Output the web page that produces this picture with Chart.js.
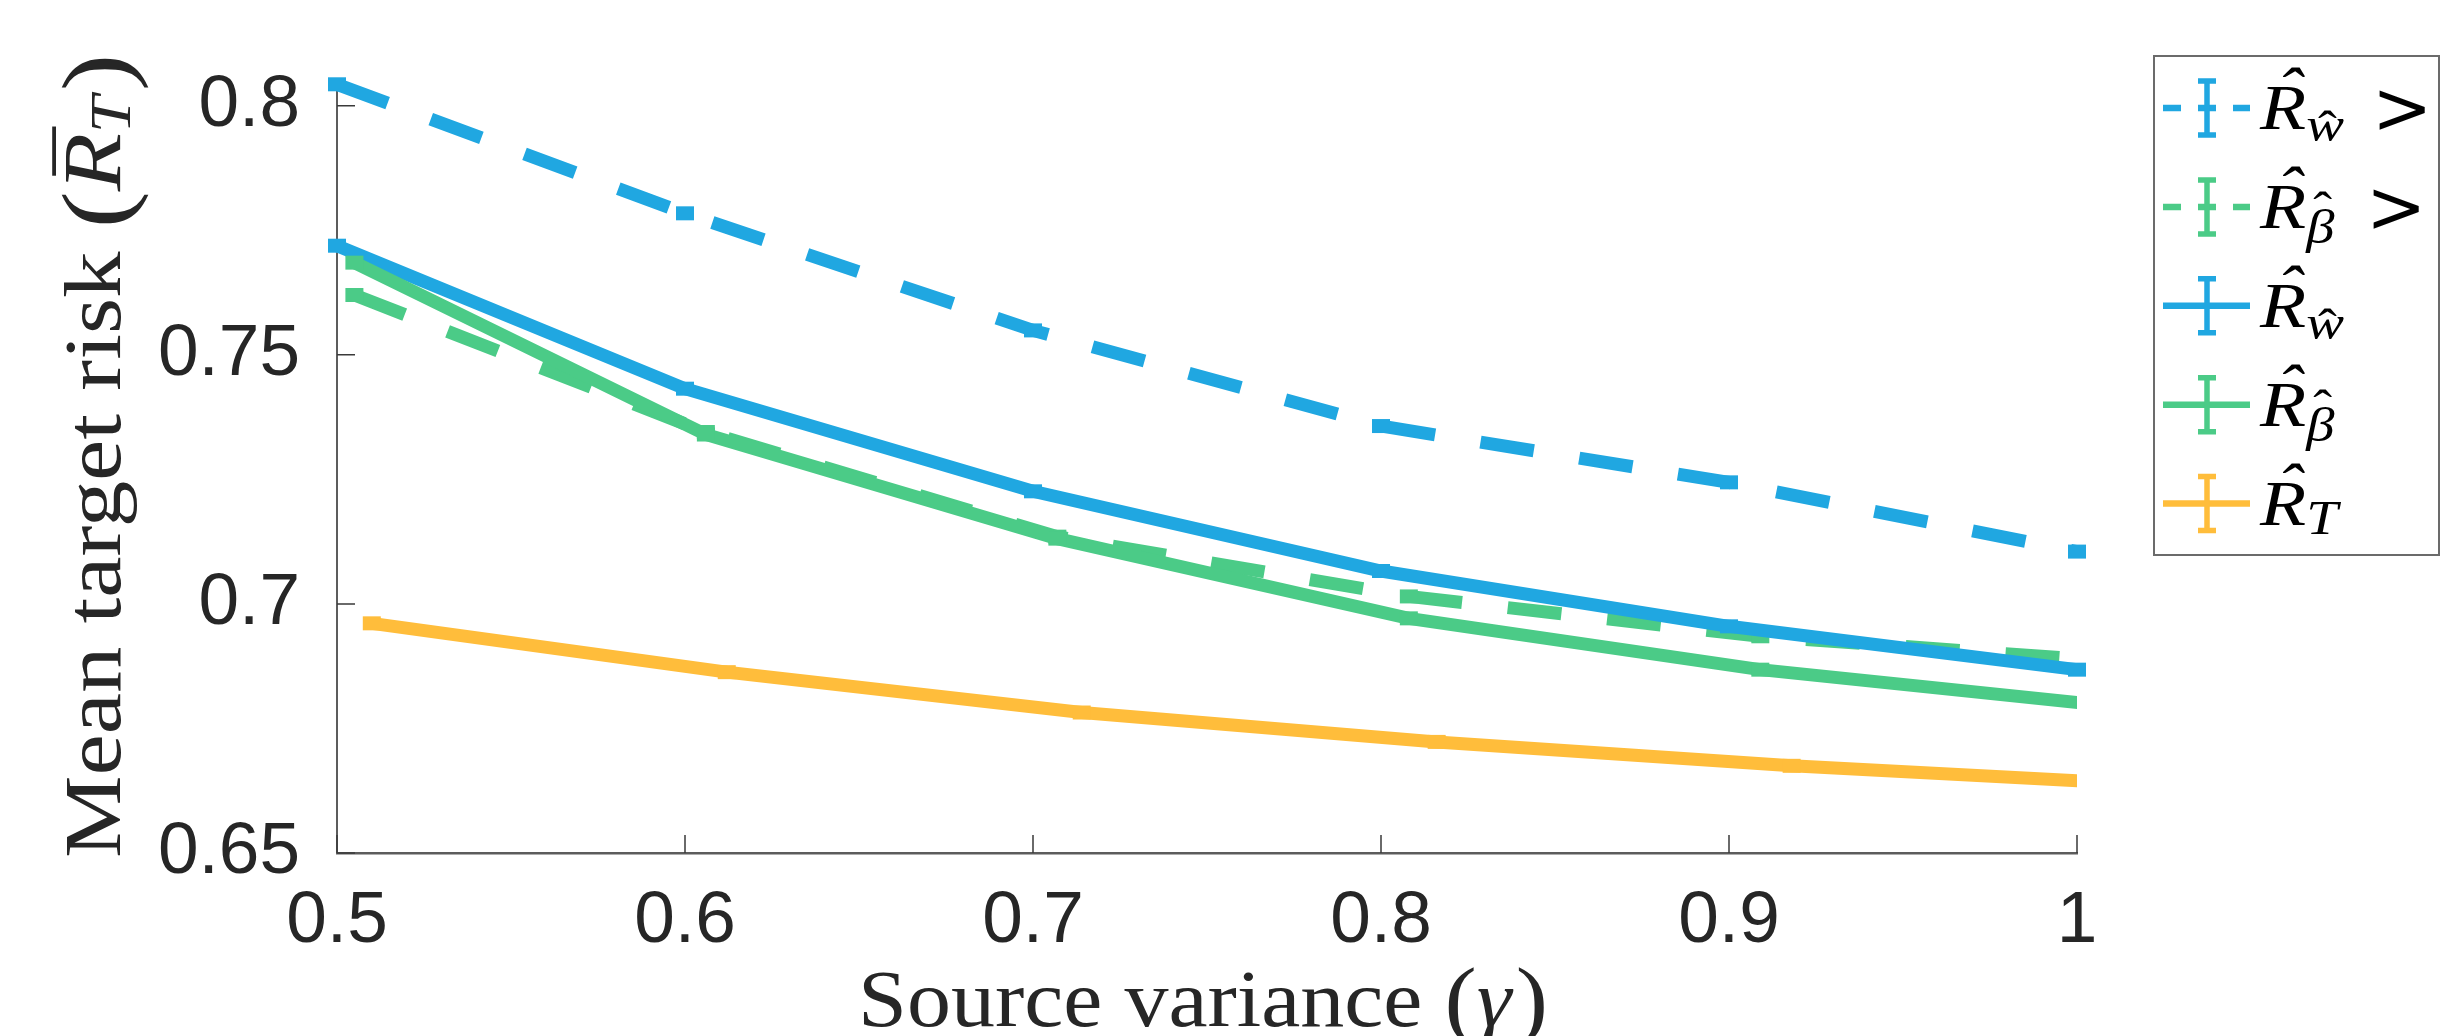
<!DOCTYPE html>
<html>
<head>
<meta charset="utf-8">
<script src="https://cdn.jsdelivr.net/npm/chart.js@4.4.0/dist/chart.umd.min.js"></script>
<style>
  html, body { margin: 0; padding: 0; background: #fff; }
</style>
</head>
<body>
<canvas id="chart" width="2458" height="1036"></canvas>
<script>
// x positions (errorbar series are slightly shifted in the original figure)
const gammaBlue = [0.5, 0.6, 0.7, 0.8, 0.9, 1.0];
const gammaGreen = [0.505, 0.606, 0.707, 0.808, 0.909, 1.01];
const gammaYellow = [0.51, 0.612, 0.714, 0.816, 0.918, 1.02];

// mean target risk per method
const riskWCond = [0.8043, 0.7784, 0.7549, 0.7357, 0.7244, 0.7105];
const riskBetaCond = [0.7620, 0.7345, 0.7135, 0.7015, 0.6935, 0.6885];
const riskW = [0.7719, 0.7432, 0.7226, 0.7066, 0.6955, 0.6868];
const riskBeta = [0.7685, 0.7340, 0.7131, 0.6971, 0.6868, 0.6795];
const riskTarget = [0.6961, 0.6863, 0.6782, 0.6723, 0.6675, 0.6638];

const seriesNames = ['R̂_ŵ >', 'R̂_β̂ >', 'R̂_ŵ', 'R̂_β̂', 'R̂_T'];

const xTicks = [0.5, 0.6, 0.7, 0.8, 0.9, 1];
const xTickLabels = ['0.5', '0.6', '0.7', '0.8', '0.9', '1'];
const yTicks = [0.65, 0.7, 0.75, 0.8];
const yTickLabels = ['0.65', '0.7', '0.75', '0.8'];

const BLUE = '#20a7e1';
const GREEN = '#4bcb87';
const YELLOW = '#ffbd3b';
const AXIS = '#5c5c5c';
const TEXT = '#262626';
const SANS = '"Liberation Sans", Arial, sans-serif';
const SERIF = '"Liberation Serif", "DejaVu Serif", serif';

function pts(xs, ys) {
    return xs.map((x, i) => ({ x: x, y: ys[i] }));
}

function series(label, xs, ys, color, dashed, order, clipRight) {
    return {
        label: label,
        data: pts(xs, ys),
        borderColor: color,
        backgroundColor: color,
        borderWidth: 13,
        borderDash: dashed ? [54, 46] : [],
        borderCapStyle: 'butt',
        borderJoinStyle: 'miter',
        tension: 0,
        fill: false,
        // errorbar caps (errors are tiny, so they look like small blocks)
        pointStyle: 'line',
        pointRadius: 9,
        pointHoverRadius: 9,
        pointBorderWidth: 14,
        pointBorderColor: color,
        order: order,
        clip: clipRight ? { left: false, top: false, bottom: false, right: 0 } : false,
        dashed: dashed
    };
}

// draw a run of text pieces with optional accents and baseline shifts,
// stretched horizontally by sx (the original uses a wide LaTeX font)
function drawRich(ctx, parts, x, y, align, sx) {
    sx = sx || 1;
    let total = 0;
    parts.forEach(p => {
        ctx.font = p.font;
        p.w = ctx.measureText(p.t).width + (p.kern || 0);
        total += p.w;
    });
    ctx.save();
    ctx.translate(x, y);
    ctx.scale(sx, 1);
    let cx = align === 'center' ? -total / 2 : 0;
    ctx.textAlign = 'left';
    ctx.textBaseline = 'alphabetic';
    parts.forEach(p => {
        ctx.font = p.font;
        ctx.fillText(p.t, cx, p.dy || 0);
        if (p.acc) {
            ctx.font = p.accFont || p.font;
            ctx.textAlign = 'center';
            ctx.fillText(p.acc, cx + (p.w - (p.kern || 0)) / 2 + (p.accDx || 0), (p.dy || 0) + (p.accDy || 0));
            ctx.textAlign = 'left';
        }
        cx += p.w;
    });
    ctx.restore();
}

const legendMath = [
    { sub: 'w', hatSub: true, subDy: 12, hatDy: 4, gt: true },
    { sub: 'β', hatSub: true, subDy: 15, hatDy: -17, gt: true },
    { sub: 'w', hatSub: true, subDy: 12, hatDy: 4 },
    { sub: 'β', hatSub: true, subDy: 15, hatDy: -17 },
    { sub: 'T', hatSub: false, subDy: 9 }
];

const decorPlugin = {
    id: 'decor',
    beforeDatasetsDraw(chart) {
        const ctx = chart.ctx;
        const area = chart.chartArea;
        const xs = chart.scales.x, ys = chart.scales.y;
        ctx.save();
        ctx.strokeStyle = '#3a3a3a';
        ctx.lineWidth = 1.5;
        ctx.beginPath();
        xTicks.forEach(v => {
            const px = xs.getPixelForValue(v);
            ctx.moveTo(px, area.bottom);
            ctx.lineTo(px, area.bottom - 18);
        });
        yTicks.forEach(v => {
            const py = ys.getPixelForValue(v);
            ctx.moveTo(area.left, py);
            ctx.lineTo(area.left + 18, py);
        });
        ctx.stroke();
        ctx.restore();
    },
    afterDraw(chart) {
        const ctx = chart.ctx;
        ctx.save();
        ctx.fillStyle = TEXT;

        // x axis title
        drawRich(ctx, [
            { t: 'Source variance ', font: '80px ' + SERIF },
            { t: '(', font: '88px ' + SERIF, dy: 3 },
            { t: 'γ', font: 'italic 80px ' + SERIF, kern: 4 },
            { t: ')', font: '88px ' + SERIF, dy: 3 }
        ], 1203, 1026, 'center', 1.1);

        // y axis title, rotated
        ctx.save();
        ctx.translate(120, 456);
        ctx.rotate(-Math.PI / 2);
        drawRich(ctx, [
            { t: 'Mean target risk ', font: '80px ' + SERIF },
            { t: '(', font: '96px ' + SERIF, dy: 8 },
            { t: 'R', font: 'italic 82px ' + SERIF, acc: '¯', accDy: -5, accDx: 3 },
            { t: 'T', font: 'italic 58px ' + SERIF, dy: 10, kern: 4 },
            { t: ')', font: '96px ' + SERIF, dy: 8 }
        ], 0, 0, 'center', 1.16);
        ctx.restore();

        // legend
        const bx = 2154, by = 56, bw = 285, bh = 499;
        ctx.fillStyle = '#ffffff';
        ctx.fillRect(bx, by, bw, bh);
        ctx.strokeStyle = '#6b6b6b';
        ctx.lineWidth = 2;
        ctx.strokeRect(bx, by, bw, bh);

        chart.data.datasets.forEach((ds, i) => {
            const cy = by + 52 + i * 98.9;
            const color = ds.borderColor;
            ctx.strokeStyle = color;
            ctx.lineCap = 'butt';
            ctx.lineWidth = 6.5;
            ctx.setLineDash(ds.dashed ? [18, 17] : []);
            ctx.beginPath();
            ctx.moveTo(2163, cy);
            ctx.lineTo(2250, cy);
            ctx.stroke();
            ctx.setLineDash([]);
            // errorbar glyph
            ctx.lineWidth = 5.5;
            ctx.beginPath();
            ctx.moveTo(2207, cy - 27);
            ctx.lineTo(2207, cy + 27);
            ctx.moveTo(2198, cy - 27);
            ctx.lineTo(2216, cy - 27);
            ctx.moveTo(2198, cy + 27);
            ctx.lineTo(2216, cy + 27);
            ctx.stroke();

            const m = legendMath[i];
            ctx.fillStyle = '#000000';
            const parts = [
                { t: 'R', font: 'italic 64px ' + SERIF, acc: 'ˆ', accDy: -17, accDx: 5 },
                { t: m.sub, font: 'italic 48px ' + SERIF, dy: m.subDy,
                  acc: m.hatSub ? 'ˆ' : null, accFont: '48px ' + SERIF, accDy: m.hatDy, accDx: 2 }
            ];
            drawRich(ctx, parts, 2260, cy + 21, 'left', 1.18);
            if (m.gt) {
                ctx.font = '72px "DejaVu Serif", serif';
                ctx.textAlign = 'left';
                ctx.fillText('>', i === 0 ? 2372 : 2366, cy + 25);
            }
        });
        ctx.restore();
    }
};

const datasets = [
    series(seriesNames[0], gammaBlue, riskWCond, BLUE, true, 5, false),
    series(seriesNames[1], gammaGreen, riskBetaCond, GREEN, true, 4, true),
    series(seriesNames[2], gammaBlue, riskW, BLUE, false, 3, false),
    series(seriesNames[3], gammaGreen, riskBeta, GREEN, false, 2, true),
    series(seriesNames[4], gammaYellow, riskTarget, YELLOW, false, 1, true)
];

new Chart(document.getElementById('chart'), {
    type: 'line',
    data: { datasets: datasets },
    options: {
        responsive: false,
        animation: false,
        events: [],
        layout: { padding: { left: 0, top: 53, right: 381, bottom: 0 } },
        plugins: {
            legend: { display: false },
            tooltip: { enabled: false }
        },
        scales: {
            x: {
                type: 'linear',
                min: 0.5,
                max: 1.0,
                afterBuildTicks: s => { s.ticks = xTicks.map(v => ({ value: v })); },
                afterFit: s => { s.height = 183; },
                ticks: {
                    callback: (v, i) => xTickLabels[i],
                    font: { family: SANS, size: 73 },
                    color: TEXT,
                    padding: 25,
                    maxRotation: 0,
                    autoSkip: false
                },
                grid: { drawOnChartArea: false, drawTicks: false },
                border: { display: true, color: AXIS, width: 2.5 }
            },
            y: {
                type: 'linear',
                min: 0.65,
                max: 0.805,
                afterBuildTicks: s => { s.ticks = yTicks.map(v => ({ value: v })); },
                afterFit: s => { s.width = 337; },
                ticks: {
                    callback: (v, i) => yTickLabels[i],
                    font: { family: SANS, size: 73 },
                    color: TEXT,
                    padding: 37,
                    autoSkip: false
                },
                grid: { drawOnChartArea: false, drawTicks: false },
                border: { display: true, color: AXIS, width: 2 }
            }
        }
    },
    plugins: [decorPlugin]
});
</script>
</body>
</html>
